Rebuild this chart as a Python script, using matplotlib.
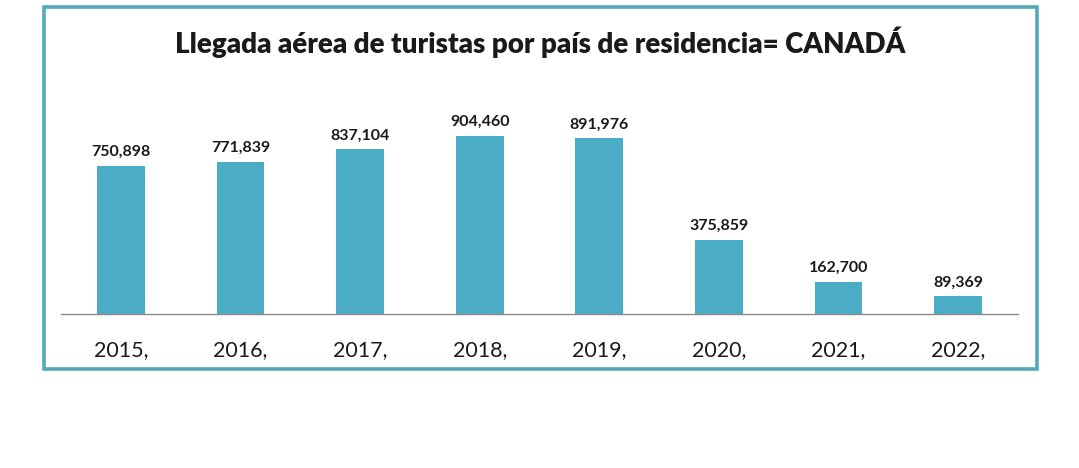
import matplotlib.pyplot as plt
from matplotlib.patches import Rectangle

years = ["2015,", "2016,", "2017,", "2018,", "2019,", "2020,", "2021,", "2022,"]
arrivals = [750898, 771839, 837104, 904460, 891976, 375859, 162700, 89369]

bar_color = "#4BACC6"
frame_color = "#55A8B8"

W, H = 1079, 468
fig = plt.figure(figsize=(W / 100, H / 100), dpi=100)
fig.patch.set_facecolor("white")

# teal frame around the chart
fig.patches.append(Rectangle((44 / W, 1 - 369 / H), (1037 - 44) / W, (369 - 7) / H,
                             transform=fig.transFigure, fill=False,
                             edgecolor=frame_color, linewidth=2.6))

ax = fig.add_axes([61 / W, 1 - 314 / H, (1018 - 61) / W, 216.5 / H])
x = range(len(years))
bars = ax.bar(x, arrivals, width=0.4, color=bar_color)
ax.set_xlim(-0.5, len(years) - 0.5)
ax.set_ylim(0, 1.1e6)

for b, v in zip(bars, arrivals):
    ax.annotate(f"{v:,}", (b.get_x() + b.get_width() / 2, v), xytext=(0, 5),
                textcoords="offset points", ha="center", va="bottom",
                fontsize=11.5, fontweight="bold", family="Lato", color="#1a1a1a")

ax.set_xticks(list(x))
ax.set_xticklabels(years, fontsize=15.5, family="Lato", color="#1a1a1a")
ax.tick_params(axis="x", length=0, pad=19)
ax.set_yticks([])
for s in ["top", "right", "left"]:
    ax.spines[s].set_visible(False)
ax.spines["bottom"].set_color("#8c8c8c")
ax.spines["bottom"].set_linewidth(1)

fig.text(540 / W, 1 - 42 / H, "Llegada aérea de turistas por país de residencia= CANADÁ",
         ha="center", va="center", fontsize=20, fontweight="heavy", family="Lato",
         color="#1a1a1a")

fig.savefig("out.png", dpi=100)
